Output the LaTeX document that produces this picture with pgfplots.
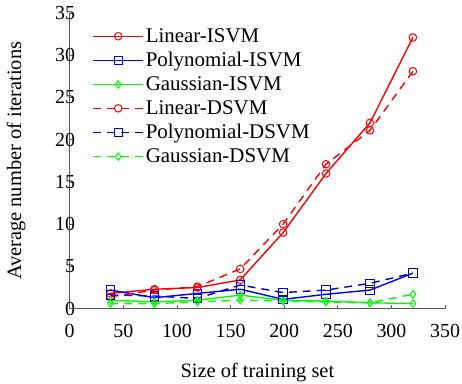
\documentclass[border=0pt]{standalone}
\usepackage{pgfplots}
\pgfplotsset{compat=1.18}
\usepackage{fontspec}
\setmainfont{Liberation Serif}
\begin{document}
\begin{tikzpicture}
\begin{axis}[
  scale only axis,
  width=377pt, height=297pt,
  xmin=0, xmax=350, ymin=0, ymax=35,
  xtick={0,50,...,350}, ytick={0,5,...,35},
  axis x line*=bottom, axis y line*=left,
  axis line style={-, draw=black!65, line width=0.8pt},
  tick align=inside,
  major tick length=4pt,
  tick style={black!65, line width=0.8pt},
  /pgf/number format/assume math mode=true,
  ticklabel style={font=\fontsize{20}{22}\selectfont},
  xticklabel style={yshift=-12pt},
  yticklabel style={xshift=9pt},
  label style={font=\fontsize{20.5}{22}\selectfont, inner sep=0pt},
  xlabel={Size of training set},
  ylabel={Average number of iterations},
  xlabel style={at={(axis description cs:0.5,0)}, anchor=north, yshift=-55pt},
  ylabel style={at={(axis description cs:-0.117,0.5)}, anchor=south, rotate=0},
  clip=false,
  legend style={draw=none, fill=white, font=\fontsize{21}{23}\selectfont,
    at={(rel axis cs:0.058,0.958)}, anchor=north west,
    row sep=4.5pt, inner sep=1pt},
  legend cell align=left,
  legend image code/.code={\draw[mark repeat=2,mark phase=2] plot coordinates {(0pt,0pt) (25pt,0pt) (50pt,0pt)};},
]
\coordinate (o) at (rel axis cs:0,0);
\addplot[red, line width=1.4pt, mark=o, mark size=3.8pt, mark options={solid, line width=1pt}]
  coordinates {(38,1.8) (79,2.3) (119,2.5) (159,3.4) (199,9.0) (239,16.0) (280,22.0) (320,32.1)};
\addlegendentry{Linear-ISVM}
\addplot[blue, line width=1.4pt, mark=square, mark size=4.2pt, mark options={solid, line width=1pt}]
  coordinates {(38,2.2) (79,1.3) (119,1.8) (159,2.3) (199,1.1) (239,1.7) (280,2.2) (320,4.2)};
\addlegendentry{Polynomial-ISVM}
\addplot[green, line width=1.4pt, mark=diamond, mark size=3.8pt, mark options={solid, line width=1pt}]
  coordinates {(38,1.0) (79,0.8) (119,1.0) (159,1.6) (199,1.0) (239,0.9) (280,0.7) (320,0.6)};
\addlegendentry{Gaussian-ISVM}
\addplot[red, line width=1.4pt, dash pattern=on 8pt off 6pt, mark=o, mark size=3.8pt, mark options={solid, line width=1pt}]
  coordinates {(38,1.4) (79,2.2) (119,2.6) (159,4.7) (199,10.0) (239,17.1) (280,21.1) (320,28.1)};
\addlegendentry{Linear-DSVM}
\addplot[blue!80!black, line width=1.4pt, dash pattern=on 8pt off 6pt, mark=square, mark size=4.2pt, mark options={solid, line width=1pt}]
  coordinates {(38,1.6) (79,1.5) (119,1.2) (159,2.8) (199,1.9) (239,2.2) (280,3.0) (320,4.2)};
\addlegendentry{Polynomial-DSVM}
\addplot[green, line width=1.4pt, dash pattern=on 8pt off 6pt, mark=diamond, mark size=3.8pt, mark options={solid, line width=1pt}]
  coordinates {(38,0.6) (79,0.6) (119,0.8) (159,1.0) (199,0.9) (239,0.8) (280,0.7) (320,1.7)};
\addlegendentry{Gaussian-DSVM}
\end{axis}
\pgfresetboundingbox
\path[use as bounding box] ([shift={(-70pt,-75pt)}]o) rectangle ++(464pt,385pt);
\end{tikzpicture}
\end{document}
